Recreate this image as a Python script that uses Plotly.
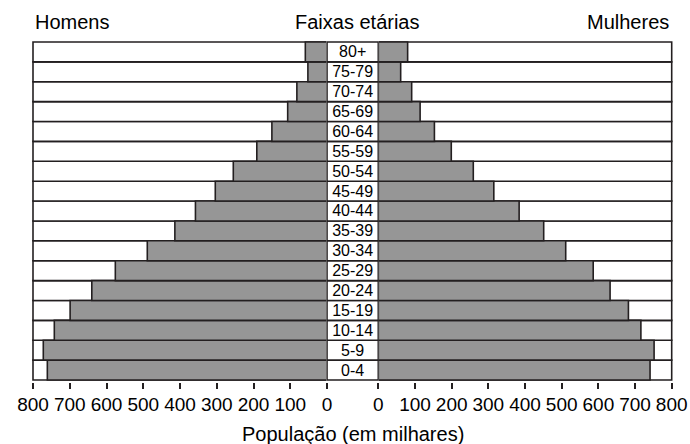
import plotly.graph_objects as go

# ---- data ----
ages = ["0-4", "5-9", "10-14", "15-19", "20-24", "25-29", "30-34", "35-39",
        "40-44", "45-49", "50-54", "55-59", "60-64", "65-69", "70-74", "75-79", "80+"]
men = [761, 772, 742, 699, 640, 576, 489, 414, 358, 304, 255, 191, 150, 107, 82, 52, 59]
women = [741, 752, 716, 682, 632, 586, 511, 451, 384, 315, 259, 199, 153, 114, 91, 61, 80]
scale_max = 800
tick_vals = [0, 100, 200, 300, 400, 500, 600, 700, 800]

# ---- style ----
W, H = 690, 444
FONT = "Liberation Sans, Arial, Helvetica, sans-serif"
GRAY = "#969696"
EDGE = "#231f20"
LW = 1.6

# pixel geometry
left_px = (33, 327)
right_px = (378.3, 671.7)
mid_px = (327, 378.3)
rows_px = (42, 380)
pad_units = 4
nrows = len(ages)
row_h = (rows_px[1] - rows_px[0]) / nrows
ypad = 0.08
y_top = rows_px[0] - ypad * row_h
y_bot = rows_px[1] + ypad * row_h

def xdom(px, rng_units):
    k = (px[1] - px[0]) / rng_units
    return [(px[0] - pad_units * k) / W, (px[1] + pad_units * k) / W]

fig = go.Figure()

# left panel (men)
fig.add_trace(go.Bar(y=ages, x=[scale_max] * nrows, orientation="h", width=1,
                     marker=dict(color="white", line=dict(color=EDGE, width=LW)),
                     xaxis="x", yaxis="y", hoverinfo="skip"))
fig.add_trace(go.Bar(y=ages, x=men, orientation="h", width=1,
                     marker=dict(color=GRAY, line=dict(color=EDGE, width=LW)),
                     xaxis="x", yaxis="y", hoverinfo="skip"))
# right panel (women)
fig.add_trace(go.Bar(y=ages, x=[scale_max] * nrows, orientation="h", width=1,
                     marker=dict(color="white", line=dict(color=EDGE, width=LW)),
                     xaxis="x2", yaxis="y", hoverinfo="skip"))
fig.add_trace(go.Bar(y=ages, x=women, orientation="h", width=1,
                     marker=dict(color=GRAY, line=dict(color=EDGE, width=LW)),
                     xaxis="x2", yaxis="y", hoverinfo="skip"))
# middle column (age labels)
fig.add_trace(go.Bar(y=ages, x=[1] * nrows, orientation="h", width=1,
                     marker=dict(color="white", line=dict(color=EDGE, width=LW)),
                     text=ages, textposition="inside", insidetextanchor="middle",
                     constraintext="none", textangle=0,
                     textfont=dict(family=FONT, size=16, color="black"),
                     xaxis="x3", yaxis="y", hoverinfo="skip"))

axis_common = dict(showgrid=False, zeroline=False, showline=False,
                   ticks="outside", ticklen=6, tickwidth=1.5, tickcolor=EDGE,
                   tickmode="array", tickvals=tick_vals, ticktext=[str(v) for v in tick_vals],
                   tickfont=dict(family=FONT, size=19, color="black"),
                   anchor="y", fixedrange=True, autorange=False, automargin=False)

fig.update_layout(
    width=W, height=H,
    margin=dict(l=0, r=0, t=0, b=0, pad=0, autoexpand=False),
    paper_bgcolor="white", plot_bgcolor="white",
    barmode="overlay", showlegend=False,
    xaxis=dict(domain=xdom(left_px, scale_max), range=[scale_max + pad_units, -pad_units], **axis_common),
    xaxis2=dict(domain=xdom(right_px, scale_max), range=[-pad_units, scale_max + pad_units], **axis_common),
    xaxis3=dict(domain=[(mid_px[0] - 0.5) / W, (mid_px[1] + 0.5) / W], range=[-0.01, 1.01],
                autorange=False, automargin=False,
                showgrid=False, zeroline=False, showline=False, showticklabels=False,
                ticks="", anchor="y", fixedrange=True),
    yaxis=dict(domain=[1 - y_bot / H, 1 - y_top / H], range=[-0.5 - ypad, nrows - 0.5 + ypad],
               autorange=False, automargin=False,
               showgrid=False, zeroline=False, showline=False, showticklabels=False,
               ticks="", fixedrange=True),
    font=dict(family=FONT, color="black"),
)

hdr = dict(family=FONT, size=20, color="black")
fig.add_annotation(text="Homens", x=33 / W, y=1 - 21.5 / H, xref="paper", yref="paper",
                   xanchor="left", yanchor="middle", showarrow=False, font=hdr)
fig.add_annotation(text="Faixas etárias", x=357 / W, y=1 - 21.5 / H, xref="paper", yref="paper",
                   xanchor="center", yanchor="middle", showarrow=False, font=hdr)
fig.add_annotation(text="Mulheres", x=671 / W, y=1 - 21.5 / H, xref="paper", yref="paper",
                   xanchor="right", yanchor="middle", showarrow=False, font=hdr)
fig.add_annotation(text="População (em milhares)", x=352.5 / W, y=1 - 434 / H,
                   xref="paper", yref="paper", xanchor="center", yanchor="middle",
                   showarrow=False, font=dict(family=FONT, size=20, color="black"))

fig.write_html("out.html", config={"displayModeBar": False},
               post_script="document.body.style.margin='0';document.body.style.overflow='hidden';")
